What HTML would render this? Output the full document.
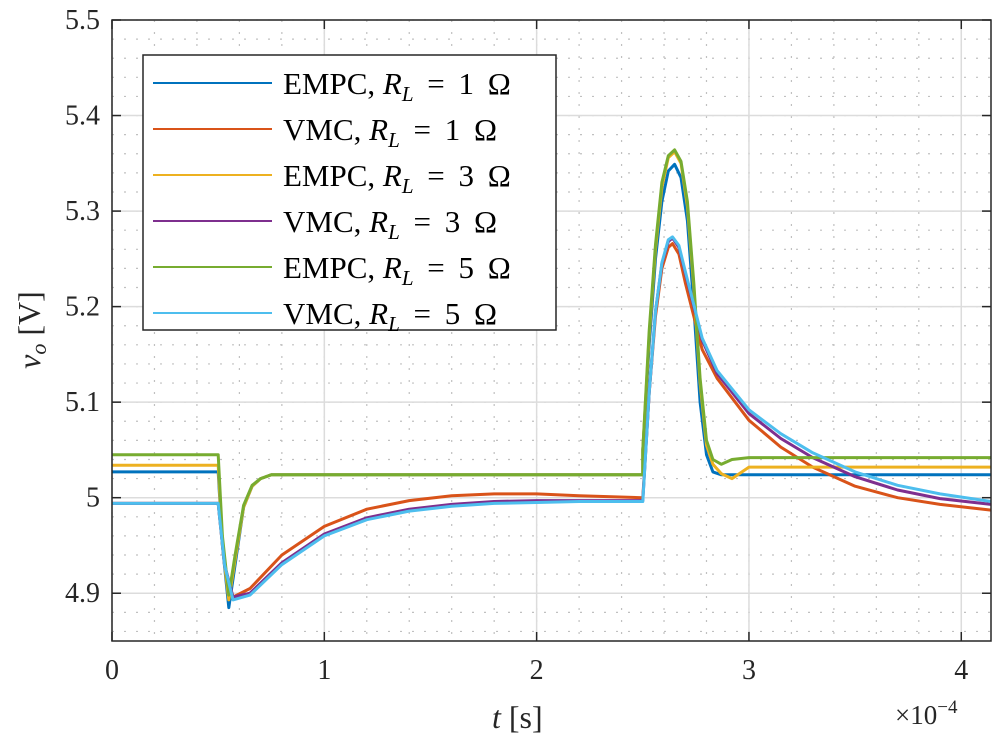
<!DOCTYPE html>
<html><head><meta charset="utf-8"><style>
body{margin:0;background:#fff;}
svg{display:block;font-family:"Liberation Serif",serif;}
</style></head><body>
<svg id="chart" width="997" height="747" viewBox="0 0 997 747" xmlns="http://www.w3.org/2000/svg"></svg>
<script>
const xTicks=[0,1,2,3,4];
const yTicks=[4.9,5,5.1,5.2,5.3,5.4,5.5];
const yTickLabels=["4.9","5","5.1","5.2","5.3","5.4","5.5"];
const seriesRL=["1","1","3","3","5","5"];
const seriesCtrl=["EMPC","VMC","EMPC","VMC","EMPC","VMC"];
const colors=["#0072BD","#D95319","#EDB120","#7E2F8E","#77AC30","#4DBEEE"];
const tEmpc=[0,0.5,0.52,0.55,0.58,0.62,0.66,0.7,0.75,2.5,2.5,2.53,2.56,2.59,2.62,2.65,2.68,2.71,2.74,2.77,2.8,2.83,2.87,2.92,3.0,4.14];
const empc1=[5.027,5.027,4.95,4.885,4.93,4.99,5.012,5.02,5.024,5.024,5.05,5.16,5.25,5.31,5.342,5.349,5.335,5.29,5.2,5.1,5.045,5.027,5.024,5.024,5.024,5.024];
const empc3=[5.034,5.034,4.95,4.893,4.935,4.99,5.012,5.02,5.024,5.024,5.05,5.17,5.26,5.325,5.356,5.362,5.35,5.305,5.22,5.12,5.055,5.035,5.025,5.02,5.032,5.032];
const empc5=[5.045,5.045,4.96,4.898,4.94,4.992,5.013,5.02,5.024,5.024,5.05,5.175,5.265,5.33,5.358,5.364,5.352,5.31,5.225,5.125,5.06,5.04,5.035,5.04,5.042,5.042];
const tVmc=[0,0.5,0.53,0.57,0.65,0.8,1.0,1.2,1.4,1.6,1.8,2.0,2.2,2.5,2.5,2.53,2.56,2.59,2.62,2.64,2.67,2.7,2.74,2.78,2.85,3.0,3.15,3.3,3.5,3.7,3.9,4.14];
const vmc1=[4.994,4.994,4.93,4.896,4.905,4.94,4.970,4.988,4.997,5.002,5.004,5.004,5.002,5.0,5.0,5.11,5.19,5.24,5.262,5.266,5.255,5.225,5.19,5.155,5.125,5.081,5.053,5.032,5.012,5.0,4.993,4.987];
const vmc3=[4.994,4.994,4.93,4.896,4.9,4.932,4.962,4.979,4.988,4.993,4.996,4.997,4.997,4.997,4.997,5.11,5.195,5.245,5.268,5.272,5.262,5.235,5.2,5.165,5.13,5.088,5.062,5.042,5.022,5.008,4.999,4.993];
const vmc5=[4.994,4.994,4.93,4.893,4.898,4.93,4.96,4.977,4.986,4.991,4.994,4.995,4.996,4.996,4.996,5.11,5.195,5.246,5.27,5.273,5.264,5.237,5.202,5.167,5.133,5.092,5.067,5.047,5.027,5.013,5.004,4.996];
const seriesT=[tEmpc,tVmc,tEmpc,tVmc,tEmpc,tVmc];
const seriesV=[empc1,vmc1,empc3,vmc3,empc5,vmc5];

const L=112,R=991,T=20,B=641,xmin=0,xmax=4.14,ymin=4.85,ymax=5.5;
const sx=t=>L+(t-xmin)/(xmax-xmin)*(R-L);
const sy=v=>T+(ymax-v)/(ymax-ymin)*(B-T);
const NS="http://www.w3.org/2000/svg";
const svg=document.getElementById('chart');
function el(tag,attrs,parent){const e=document.createElementNS(NS,tag);for(const k in attrs)e.setAttribute(k,attrs[k]);(parent||svg).appendChild(e);return e;}

el('rect',{x:L,y:T,width:R-L,height:B-T,fill:'#fff'});
const grid=el('g',{});


for(let t=0;t<=xmax+1e-9;t+=0.2){const x=sx(t);el('line',{x1:x,x2:x,y1:T,y2:B,stroke:'#c0c0c0','stroke-width':1.2,'stroke-dasharray':'2 10'},grid);}
for(let v=4.86;v<=5.5;v+=0.02){const y=sy(v);el('line',{x1:L,x2:R,y1:y,y2:y,stroke:'#c0c0c0','stroke-width':1.2,'stroke-dasharray':'2 10'},grid);}
xTicks.forEach(t=>{const x=sx(t);el('line',{x1:x,x2:x,y1:T,y2:B,stroke:'#dcdcdc','stroke-width':1.5},grid);});
yTicks.forEach(v=>{const y=sy(v);el('line',{x1:L,x2:R,y1:y,y2:y,stroke:'#dcdcdc','stroke-width':1.5},grid);});

const plot=el('g',{});


seriesV.forEach((vals,i)=>{
  const ts=seriesT[i];
  const pts=vals.map((v,j)=>sx(ts[j]).toFixed(1)+','+sy(v).toFixed(1)).join(' ');
  const p=el('polyline',{points:pts,fill:'none',stroke:colors[i],'stroke-width':3,'stroke-linejoin':'round'},plot);
  
  
});

const ax=el('g',{});


el('rect',{x:L,y:T,width:R-L,height:B-T,fill:'none',stroke:'#262626','stroke-width':1.5},ax);
xTicks.forEach(t=>{const x=sx(t);
  el('line',{x1:x,x2:x,y1:B,y2:B-9,stroke:'#262626','stroke-width':1.5},ax);
  el('line',{x1:x,x2:x,y1:T,y2:T+9,stroke:'#262626','stroke-width':1.5},ax);
  const tx=el('text',{x:x,y:B+38,'text-anchor':'middle','font-size':28,fill:'#262626'},ax);tx.textContent=String(t);
  
  
});
yTicks.forEach((v,i)=>{const y=sy(v);
  el('line',{x1:L,x2:L+9,y1:y,y2:y,stroke:'#262626','stroke-width':1.5},ax);
  el('line',{x1:R,x2:R-9,y1:y,y2:y,stroke:'#262626','stroke-width':1.5},ax);
  const tx=el('text',{x:L-12,y:y+9,'text-anchor':'end','font-size':28,fill:'#262626'},ax);tx.textContent=yTickLabels[i];
  
  
});
</script>
<svg style="position:absolute;left:0;top:0" width="997" height="747">
  <text x="492" y="728" font-size="32" fill="#262626" font-family="Liberation Serif,serif"><tspan font-style="italic">t</tspan> [s]</text>
  <text x="895" y="724" font-size="27" fill="#262626" font-family="Liberation Serif,serif">×10<tspan dy="-11" font-size="19">−4</tspan></text>
  <text transform="translate(40,330) rotate(-90)" text-anchor="middle" font-size="32" fill="#262626" font-family="Liberation Serif,serif"><tspan font-style="italic">v</tspan><tspan font-style="italic" font-size="22" dy="6">o</tspan><tspan dy="-6"> [V]</tspan></text>
  <g font-family="Liberation Serif,serif" font-size="31" fill="#000">
    <rect x="143" y="55" width="413" height="275" fill="#fff" stroke="#262626" stroke-width="1.5"/>
    <line x1="153" x2="272" y1="83" y2="83" stroke="#0072BD" stroke-width="2"/>
    <text x="283" y="94">EMPC, <tspan font-style="italic">R</tspan><tspan font-style="italic" font-size="21" dy="7">L</tspan><tspan dy="-7" word-spacing="6"> = 1 Ω</tspan></text>
    <line x1="153" x2="272" y1="129" y2="129" stroke="#D95319" stroke-width="2"/>
    <text x="283" y="140">VMC, <tspan font-style="italic">R</tspan><tspan font-style="italic" font-size="21" dy="7">L</tspan><tspan dy="-7" word-spacing="6"> = 1 Ω</tspan></text>
    <line x1="153" x2="272" y1="175" y2="175" stroke="#EDB120" stroke-width="2"/>
    <text x="283" y="186">EMPC, <tspan font-style="italic">R</tspan><tspan font-style="italic" font-size="21" dy="7">L</tspan><tspan dy="-7" word-spacing="6"> = 3 Ω</tspan></text>
    <line x1="153" x2="272" y1="221" y2="221" stroke="#7E2F8E" stroke-width="2"/>
    <text x="283" y="232">VMC, <tspan font-style="italic">R</tspan><tspan font-style="italic" font-size="21" dy="7">L</tspan><tspan dy="-7" word-spacing="6"> = 3 Ω</tspan></text>
    <line x1="153" x2="272" y1="267" y2="267" stroke="#77AC30" stroke-width="2"/>
    <text x="283" y="278">EMPC, <tspan font-style="italic">R</tspan><tspan font-style="italic" font-size="21" dy="7">L</tspan><tspan dy="-7" word-spacing="6"> = 5 Ω</tspan></text>
    <line x1="153" x2="272" y1="313" y2="313" stroke="#4DBEEE" stroke-width="2"/>
    <text x="283" y="324">VMC, <tspan font-style="italic">R</tspan><tspan font-style="italic" font-size="21" dy="7">L</tspan><tspan dy="-7" word-spacing="6"> = 5 Ω</tspan></text>
  </g>
</svg>
</body></html>
